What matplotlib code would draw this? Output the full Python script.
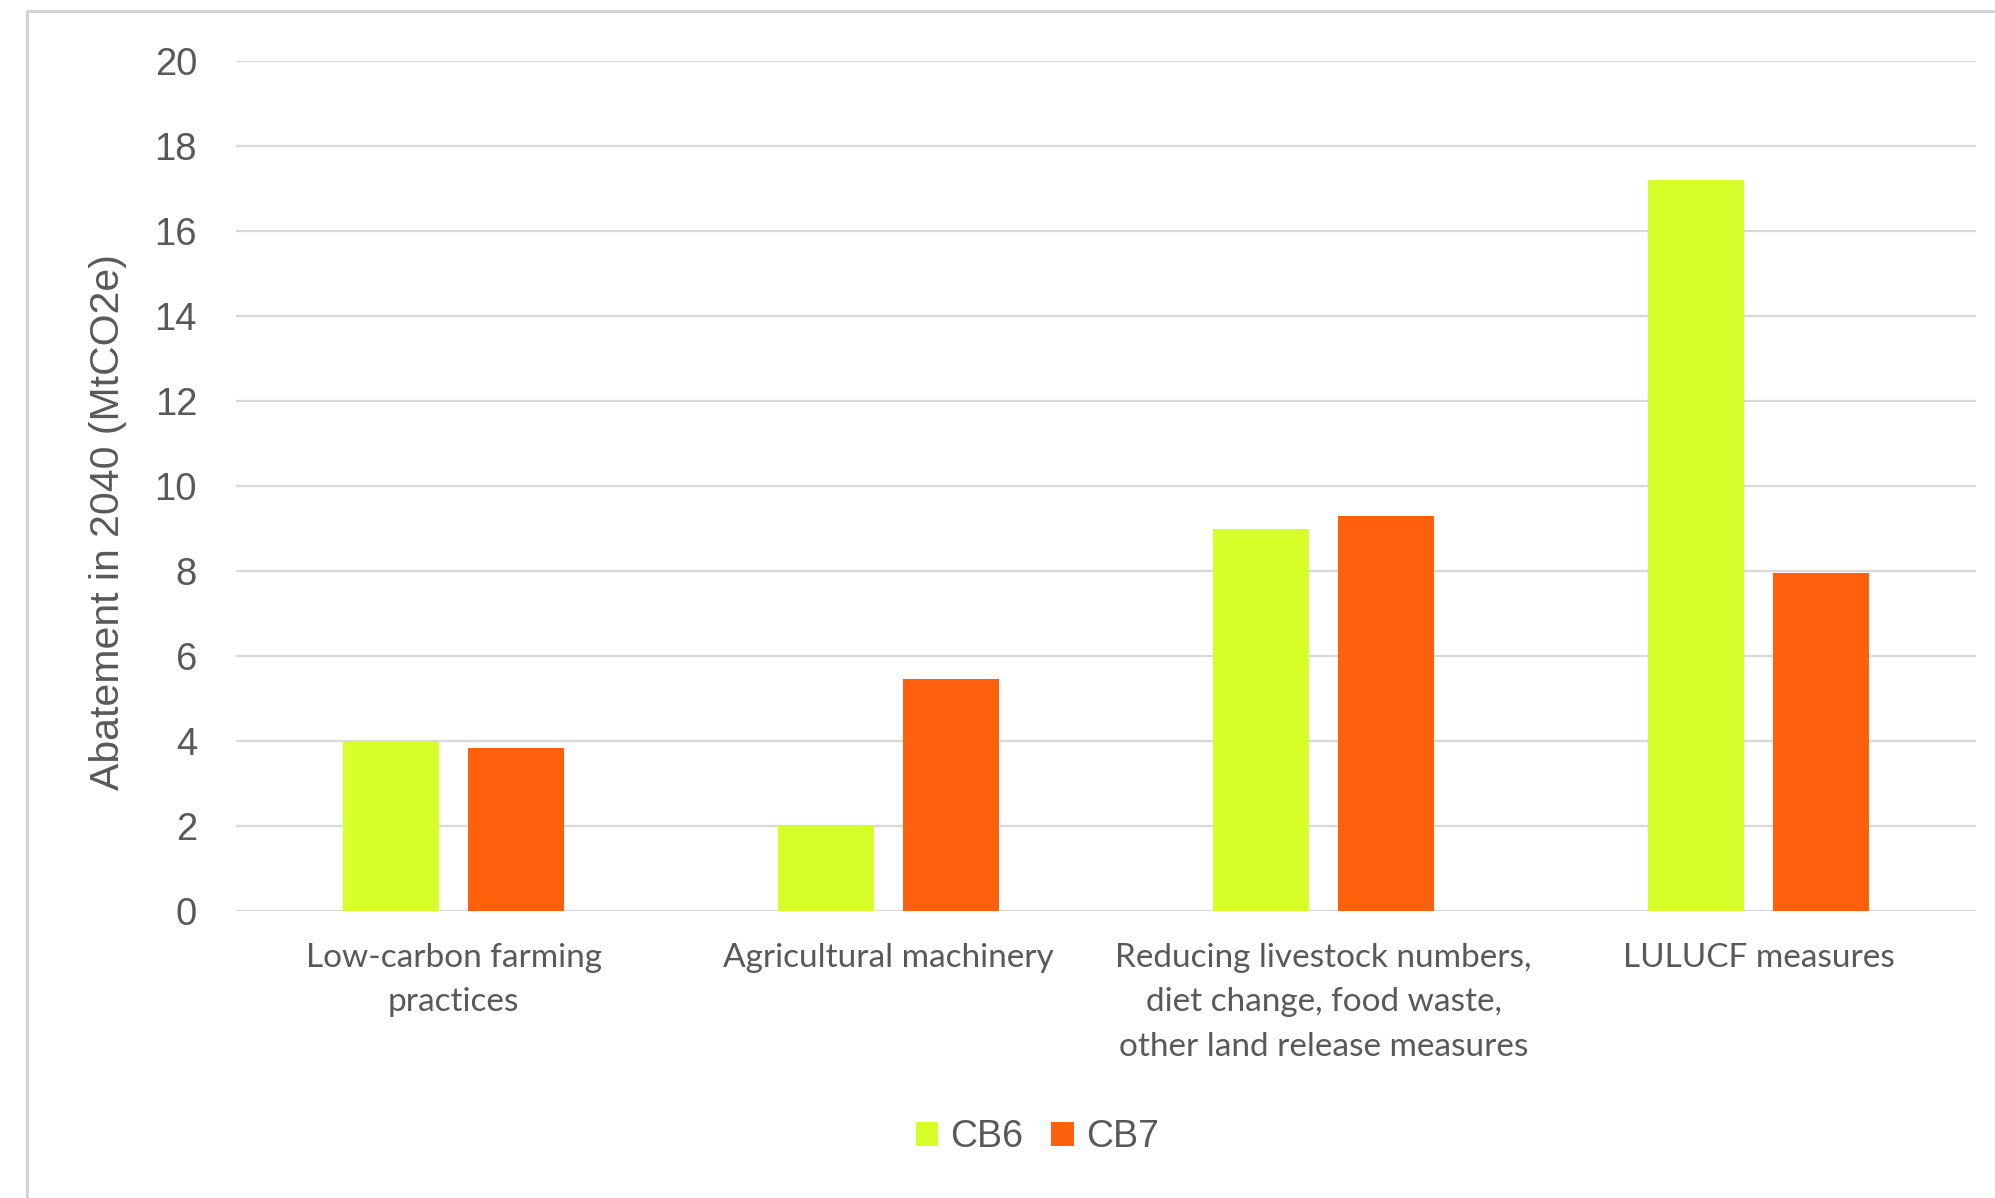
import matplotlib
matplotlib.use("Agg")
import matplotlib.pyplot as plt
from matplotlib.patches import Patch, Rectangle
import numpy as np

# Data
categories = [
    "Low-carbon farming\npractices",
    "Agricultural machinery",
    "Reducing livestock numbers,\ndiet change, food waste,\nother land release measures",
    "LULUCF measures",
]
cb6 = [4.0, 2.0, 9.0, 17.2]
cb7 = [3.83, 5.45, 9.3, 7.95]
series_names = ["CB6", "CB7"]
y_ticks = [0, 2, 4, 6, 8, 10, 12, 14, 16, 18, 20]

# Style
COL_CB6 = "#d7ff2a"
COL_CB7 = "#ff600c"
TEXT = "#595959"
GRID = "#d9d9d9"

W, H, DPI = 1995, 1198, 100
fig = plt.figure(figsize=(W / DPI, H / DPI), dpi=DPI)
fig.patch.set_facecolor("white")

# Outer chart frame
fig.patches.append(Rectangle((27 / W, -0.05), 1.2, 1 - 11 / H + 0.05,
                             transform=fig.transFigure, fill=False,
                             edgecolor="#d4d4d4", linewidth=2.2, zorder=0))

ax = fig.add_axes([236 / W, 1 - 911 / H, (1976 - 236) / W, (911 - 61) / H])
x = np.arange(len(categories))
bw = 0.222
off = 0.1433
ax.bar(x - off, cb6, width=bw, color=COL_CB6, zorder=3, label=series_names[0])
ax.bar(x + off, cb7, width=bw, color=COL_CB7, zorder=3, label=series_names[1])

ax.set_xlim(-0.5, len(categories) - 0.5)
ax.set_ylim(0, 20)
ax.set_yticks(y_ticks)
ax.yaxis.grid(True, color=GRID, linewidth=1.6, zorder=0)
ax.set_axisbelow(True)
for s in ax.spines.values():
    s.set_visible(False)
ax.tick_params(axis="y", length=0, pad=28, labelsize=27.5, labelcolor=TEXT)
for t in ax.get_yticklabels():
    t.set_fontfamily("Liberation Sans")
ax.set_xticks(x)
ax.set_xticklabels(categories, fontfamily="Lato", fontsize=24, color=TEXT,
                   linespacing=1.6)
ax.tick_params(axis="x", length=0, pad=23)

fig.text(108 / W, 1 - 522 / H, "Abatement in 2040 (MtCO2e)", rotation=90,
         ha="center", va="center", fontsize=29.5, color=TEXT,
         fontfamily="Liberation Sans")

handles = [Patch(facecolor=COL_CB6), Patch(facecolor=COL_CB7)]
leg = fig.legend(handles, series_names, loc="center",
                 bbox_to_anchor=(1037 / W, 1 - 1137 / H), ncol=2, frameon=False,
                 prop={"family": "Liberation Sans", "size": 27},
                 handlelength=0.6, handleheight=0.6, handletextpad=0.32,
                 columnspacing=0.75)
for t in leg.get_texts():
    t.set_color(TEXT)

fig.savefig("out.png", dpi=DPI, facecolor="white")
